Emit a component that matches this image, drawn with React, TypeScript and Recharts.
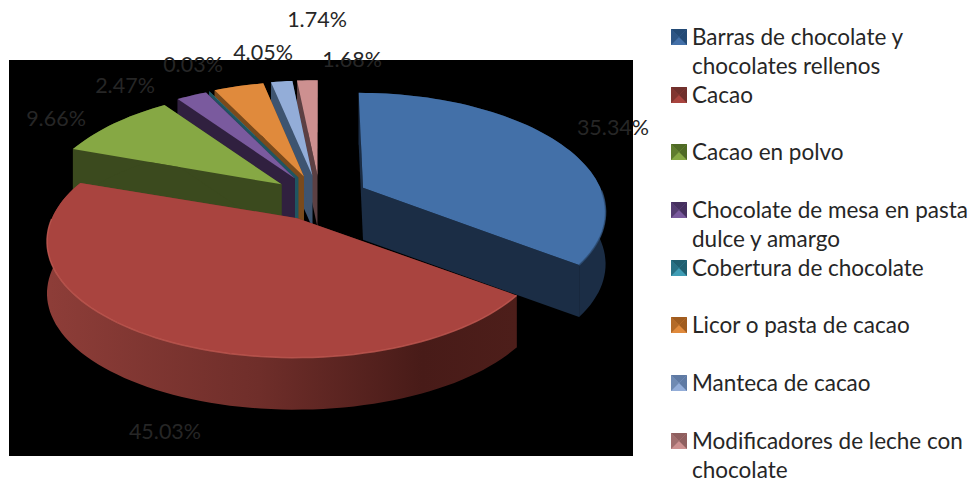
import { PieChart, Pie } from 'recharts'

const categories = [
  'Barras de chocolate y chocolates rellenos',
  'Cacao',
  'Cacao en polvo',
  'Chocolate de mesa en pasta dulce y amargo',
  'Cobertura de chocolate',
  'Licor o pasta de cacao',
  'Manteca de cacao',
  'Modificadores de leche con chocolate',
]
const shares = [35.34, 45.03, 9.66, 2.47, 0.03, 4.05, 1.74, 1.68]

const topColors = ['#4370a8', '#a9443f', '#86a844', '#7a5a9e', '#3f9db5', '#e08a3c', '#93add8', '#cd9090']
const wallColors = ['#1b2d45', 'url(#redWall)', '#3b4a1e', '#30203f', '#1f5561', '#7a4a1c', '#3e5470', '#5c4043']
const swatchDark = ['#234a75', '#70302c', '#4f6a25', '#46305f', '#1f5f70', '#a05c1f', '#5f7aa3', '#8f5f5f']
const bevelColors = ['#2f5078', '#c25a53']

// centre of each percentage label on the page
const labelSpots = [
  [613, 127],
  [165, 431],
  [56, 118],
  [125, 85],
  [193, 64],
  [263, 52],
  [317, 19],
  [352, 59],
]

// back slices get painted first, so the nearer ones cover their walls
const drawOrder = [7, 6, 5, 4, 3, 2, 0, 1]

const rows = categories.map((name, i) => ({ name, value: shares[i] }))

const TEXT = '#262626'
const FONT = 'Lato, Carlito, sans-serif'
const SQUASH = 0.471
const PERSPECTIVE = 0.19
const EXPLODE = 0.2
const DEPTH = 52

const rad = (d: number) => (d * Math.PI) / 180

const Slice = ({ cx, cy, outerRadius, startAngle, endAngle, idx }: any) => {
  const b = outerRadius * SQUASH
  // recharts angles are counter-clockwise from 3 o'clock, the tilted disc wants clockwise from 12
  const from = 90 - startAngle
  const to = 90 - endAngle
  const mid = rad((from + to) / 2)
  const ax = cx + EXPLODE * outerRadius * Math.sin(mid)
  const ay = cy - EXPLODE * 0.458 * outerRadius * 1.04 * Math.cos(mid)
  // nearer slices look a little wider
  const a = outerRadius * (1 - 0.025 * Math.cos(mid))

  const rim = (deg: number) => {
    const ux = Math.sin(rad(deg))
    const uy = -Math.cos(rad(deg))
    const w = 1 - PERSPECTIVE * uy
    return [ax + (a * ux) / w + (ax - cx) * 0.1 * uy, ay + (b * uy) / w]
  }

  const pts: number[][] = []
  const steps = Math.max(2, Math.ceil((to - from) / 2))
  for (let s = 0; s <= steps; s++) pts.push(rim(from + ((to - from) * s) / steps))

  const line = (list: number[][]) => list.map((p) => `${p[0].toFixed(1)},${p[1].toFixed(1)}`).join(' L')
  const topPath = `M${ax},${ay} L${line(pts)} Z`
  const low = (p: number[]) => [p[0], p[1] + DEPTH]
  const rimWall = `M${line(pts)} L${line(pts.map(low).reverse())} Z`
  const first = pts[0]
  const last = pts[pts.length - 1]
  const wallA = `M${ax},${ay} L${first[0]},${first[1]} L${first[0]},${first[1] + DEPTH} L${ax},${ay + DEPTH} Z`
  const wallB = `M${ax},${ay} L${last[0]},${last[1]} L${last[0]},${last[1] + DEPTH} L${ax},${ay + DEPTH} Z`
  const wall = wallColors[idx]
  const bevel = bevelColors[idx]

  return (
    <g>
      {idx === 1 && (
        <defs>
          <linearGradient id="redWall" gradientUnits="userSpaceOnUse" x1="50" y1="0" x2="515" y2="0">
            <stop offset="0" stopColor="#8d3d38" />
            <stop offset="0.45" stopColor="#6f2e2a" />
            <stop offset="0.8" stopColor="#481b18" />
            <stop offset="1" stopColor="#4d1e1a" />
          </linearGradient>
        </defs>
      )}
      <path d={wallA} fill={wall} />
      <path d={wallB} fill={wall} />
      <path d={rimWall} fill={wall} />
      <path d={topPath} fill={topColors[idx]} />
      {bevel && <path d={`M${line(pts.filter((p) => p[1] > ay))}`} fill="none" stroke={bevel} strokeWidth={1.5} opacity={0.8} />}
    </g>
  )
}

const renderLabel = (props: any) => {
  const i = categories.indexOf(props.name)
  return (
    <text x={labelSpots[i][0]} y={labelSpots[i][1]} textAnchor="middle" dominantBaseline="central" fill={TEXT} fontFamily={FONT} fontSize={21.5}>
      {shares[i].toFixed(2)}%
    </text>
  )
}

const Swatch = ({ idx }: any) => (
  <svg width={16} height={16} style={{ position: 'absolute', left: -21, top: 7 }}>
    <rect width={16} height={16} fill={topColors[idx]} />
    <polygon points="0,0 16,0 8,8" fill={swatchDark[idx]} />
    <polygon points="0,0 0,16 8,8" fill={swatchDark[idx]} opacity={0.7} />
    <polygon points="16,0 16,16 8,8" fill={swatchDark[idx]} />
  </svg>
)

const LegendList = () => (
  <div style={{ position: 'absolute', left: 692, top: 22, width: 279, fontFamily: FONT, fontSize: 22.5, lineHeight: '29px', color: TEXT }}>
    {categories.map((name, i) => (
      <div key={name} style={{ position: 'relative', height: 57.7 }}>
        <Swatch idx={i} />
        {name}
      </div>
    ))}
  </div>
)

export default function App() {
  return (
    <div style={{ position: 'absolute', left: 0, top: 0, width: 971, height: 483, background: '#fff', overflow: 'hidden' }}>
      <div style={{ position: 'absolute', left: 9, top: 60, width: 624, height: 396, background: '#000' }} />
      <div style={{ position: 'absolute', left: 0, top: 0 }}>
        <PieChart width={971} height={483} margin={{ top: 0, right: 0, bottom: 0, left: 0 }}>
          {drawOrder.map((idx) => (
            <Pie
              key={idx}
              data={rows}
              dataKey="value"
              nameKey="name"
              cx={320}
              cy={198}
              outerRadius={240}
              startAngle={90}
              endAngle={-270}
              stroke="none"
              isAnimationActive={false}
              shape={(p: any) => (categories.indexOf(p.name) === idx ? <Slice {...p} idx={idx} /> : <g />)}
            />
          ))}
          <Pie
            data={rows}
            dataKey="value"
            nameKey="name"
            cx={320}
            cy={198}
            outerRadius={240}
            startAngle={90}
            endAngle={-270}
            stroke="none"
            isAnimationActive={false}
            shape={() => <g />}
            label={renderLabel}
            labelLine={false}
          />
        </PieChart>
      </div>
      <LegendList />
    </div>
  )
}
